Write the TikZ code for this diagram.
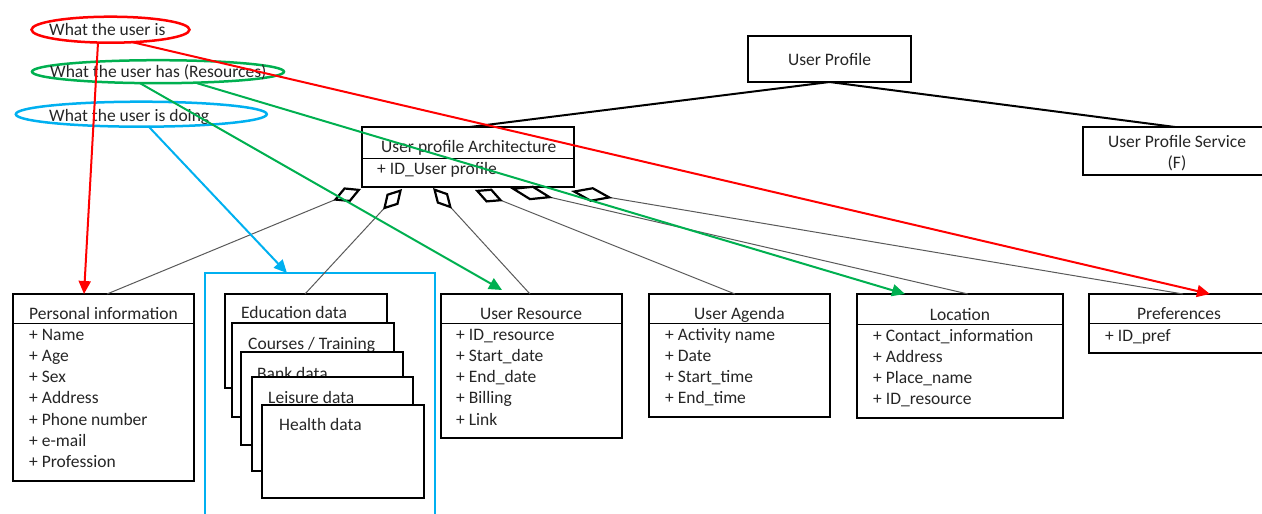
\documentclass[tikz,border=0pt]{standalone}
\usepackage{fontspec}
\setmainfont{Carlito}
\usetikzlibrary{arrows.meta,shapes.geometric,calc}
\definecolor{ured}{RGB}{255,0,0}
\definecolor{ugreen}{RGB}{0,176,80}
\definecolor{ublue}{RGB}{0,176,240}
\begin{document}
\begin{tikzpicture}[x=1pt,y=-1pt,
  font=\fontsize{17.5}{21}\selectfont,
  box/.style={rectangle, draw=black, line width=2pt, fill=white, inner sep=0pt, outer sep=0pt, anchor=north west},
  lbl/.style={inner sep=0pt, anchor=base, text=black!85},
  attr/.style={inner sep=0pt, anchor=base west, text=black!85},
  divider/.style={line width=1pt},
  agg/.style={draw=black!65, line width=1pt},
  oval/.style={ellipse, line width=2.5pt, inner sep=0pt, outer sep=0pt},
  colarrow/.style={line width=2pt, -{Triangle[length=13pt,width=12pt]}}
]
\useasboundingbox (0,0) rectangle (1262,514);
\clip (0,0) rectangle (1262,514);

% ellipses
\node[oval, draw=ured, minimum width=158pt, minimum height=26pt] (is) at (110.5,29.7) {};
\node[attr] (is-t) at (49,35) {What the user is};
\node[oval, draw=ugreen, minimum width=252pt, minimum height=23pt] (has) at (158,71.7) {};
\node[attr] (has-t) at (50,77.5) {What the user has (Resources)};
\node[oval, draw=ublue, minimum width=251pt, minimum height=25pt] (do) at (141.3,114.2) {};
\node[attr] (do-t) at (49,121) {What the user is doing};

% top boxes
\node[box, minimum width=163pt, minimum height=46pt] (up) at (748,36) {};
\node[lbl] (up-t) at (829.5,65) {User Profile};
\node[box, minimum width=212pt, minimum height=60pt] (arch) at (362,127) {};
\draw[divider] (362,158) -- (574,158);
\node[attr] (arch-t) at (381,152) {User profile Architecture};
\node[attr] (arch-a) at (377,174) {+ ID\_User profile};
\node[box, minimum width=188pt, minimum height=48pt] (svc) at (1083,127) {};
\node[lbl] (svc-t1) at (1177,147.5) {User Profile Service};
\node[lbl] (svc-t2) at (1177,168.5) {(F)};

\draw[line width=2pt] (up.south) -- ($(arch.north west)+(108,0)$);
\draw[line width=2pt] (up.south) -- ($(svc.north west)+(92,0)$);

% Personal information
\node[box, minimum width=181pt, minimum height=187pt] (pers) at (13,294) {};
\draw[divider] (13,323) -- (194,323);
\node[lbl] (pers-t) at (103.5,319) {Personal information};
\foreach \t [count=\i from 0] in {+ Name,+ Age,+ Sex,+ Address,+ Phone number,+ e-mail,+ Profession}
  \node[attr] (pers-a\i) at (29,{340+21.3*\i}) {\t};

% group of data boxes
\node[rectangle, draw=ublue, line width=2pt, inner sep=0pt, outer sep=0pt, anchor=north west, minimum width=230pt, minimum height=260pt] (grp) at (205,273) {};
\node[box, minimum width=162pt, minimum height=94pt] (edu) at (225,294) {};
\node[attr] (edu-t) at (241,318.5) {Education data};
\node[box, minimum width=162pt, minimum height=94pt] (crs) at (232,323) {};
\node[attr] (crs-t) at (248,349.5) {Courses / Training};
\node[box, minimum width=162pt, minimum height=93pt] (bank) at (241,352) {};
\node[attr] (bank-t) at (257,379) {Bank data};
\node[box, minimum width=161pt, minimum height=94pt] (leis) at (252,377) {};
\node[attr] (leis-t) at (268,403) {Leisure data};
\node[box, minimum width=162pt, minimum height=93pt] (hlth) at (262,405) {};
\node[attr] (hlth-t) at (279,430) {Health data};

% User Resource
\node[box, minimum width=181pt, minimum height=144pt] (res) at (441,294) {};
\draw[divider] (441,323) -- (622,323);
\node[lbl] (res-t) at (531,319) {User Resource};
\foreach \t [count=\i from 0] in {+ ID\_resource,+ Start\_date,+ End\_date,+ Billing,+ Link}
  \node[attr] (res-a\i) at (456,{340+21.25*\i}) {\t};

% User Agenda
\node[box, minimum width=181pt, minimum height=123pt] (agd) at (649,294) {};
\draw[divider] (649,323) -- (830,323);
\node[lbl] (agd-t) at (739.5,319) {User Agenda};
\foreach \t [count=\i from 0] in {+ Activity name,+ Date,+ Start\_time,+ End\_time}
  \node[attr] (agd-a\i) at (665,{340+21.1*\i}) {\t};

% Location
\node[box, minimum width=206pt, minimum height=124pt] (loc) at (857,294) {};
\draw[divider] (857,324) -- (1063,324);
\node[lbl] (loc-t) at (960,320) {Location};
\foreach \t [count=\i from 0] in {+ Contact\_information,+ Address,+ Place\_name,+ ID\_resource}
  \node[attr] (loc-a\i) at (873,{341+21*\i}) {\t};

% Preferences
\node[box, minimum width=180pt, minimum height=59pt] (pref) at (1089,294) {};
\draw[divider] (1089,323) -- (1269,323);
\node[lbl] (pref-t) at (1179,319) {Preferences};
\node[attr] (pref-a0) at (1105,341) {+ ID\_pref};

% aggregation connectors
\draw[agg, -{Diamond[open,color=black,length=30pt,width=16pt,line width'=2.2pt]}] ($(pers.north west)+(94,0)$) -- ($(arch.south west)+(-1,2)$);
\draw[agg, -{Diamond[open,color=black,length=28pt,width=16pt,line width'=2.2pt]}] ($(edu.north west)+(80,0)$) -- ($(arch.south west)+(40,2)$);
\draw[agg, -{Diamond[open,color=black,length=28pt,width=15pt,line width'=2.2pt]}] ($(res.north west)+(89,0)$) -- ($(arch.south west)+(71,1)$);
\draw[agg, -{Diamond[open,color=black,length=30pt,width=15pt,line width'=2.2pt]}] ($(agd.north west)+(86,0)$) -- ($(arch.south west)+(113,3)$);
\draw[agg, -{Diamond[open,color=black,length=44pt,width=15pt,line width'=2.2pt]}] ($(loc.north west)+(111,0)$) -- ($(arch.south west)+(148,1)$);
\draw[agg, -{Diamond[open,color=black,length=42pt,width=15pt,line width'=2.2pt]}] ($(pref.north west)+(94,0)$) -- ($(arch.south west)+(209,4)$);

% coloured arrows
\draw[colarrow, ured] ($(is.south)+(-12.5,0)$) -- ($(pers.north west)+(71,0)$);
\draw[colarrow, ured] ($(is.south)+(22,-0.5)$) -- ($(pref.north west)+(121,0)$);
\draw[colarrow, ugreen] ($(has.south)+(-18,0)$) -- ($(res.north west)+(61,-4)$);
\draw[colarrow, ugreen] ($(has.south)+(39,0)$) -- ($(loc.north west)+(48,0)$);
\draw[colarrow, ublue] ($(do.south)+(7,-0.5)$) -- ($(grp.north west)+(82,0)$);
\end{tikzpicture}
\end{document}
